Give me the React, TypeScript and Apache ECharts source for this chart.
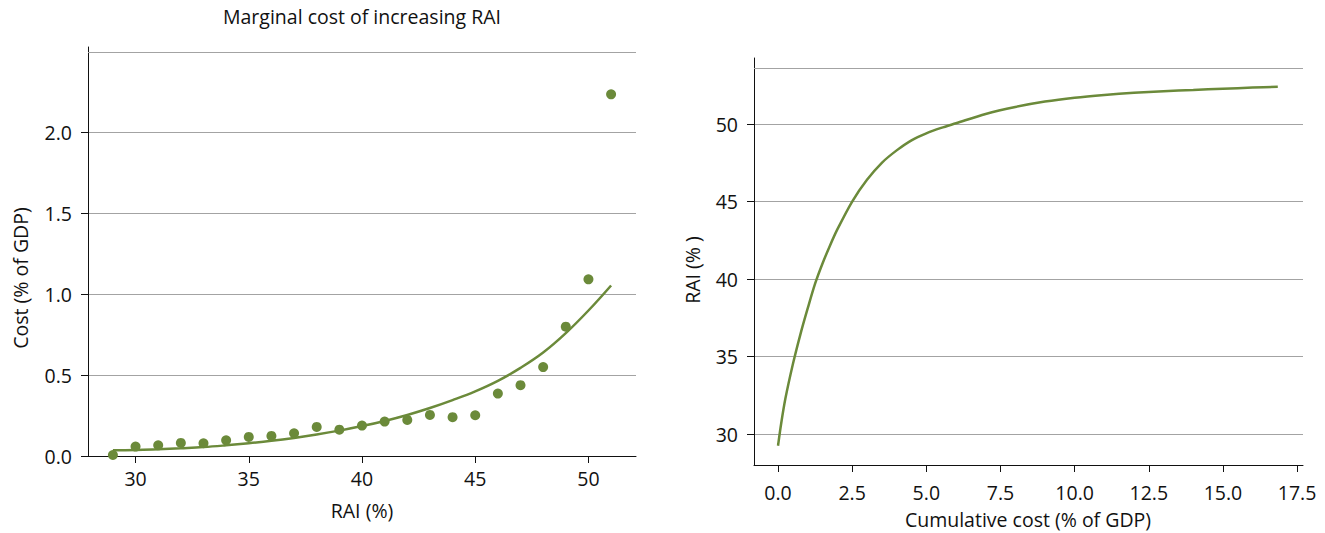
import React, { useEffect, useRef } from "react";
import * as echarts from "echarts";

// Left panel: marginal cost of increasing RAI
const raiValues = [29, 30, 31, 32, 33, 34, 35, 36, 37, 38, 39, 40, 41, 42, 43, 44, 45, 46, 47, 48, 49, 50, 51];
const marginalCost = [0.006, 0.058, 0.066, 0.081, 0.079, 0.097, 0.118, 0.124, 0.14, 0.18, 0.163, 0.188, 0.213, 0.223, 0.254, 0.24, 0.252, 0.386, 0.438, 0.55, 0.8, 1.093, 2.237];
const fittedCost = [0.035, 0.037, 0.042, 0.048, 0.055, 0.066, 0.079, 0.094, 0.112, 0.133, 0.157, 0.185, 0.217, 0.254, 0.297, 0.346, 0.4, 0.465, 0.545, 0.64, 0.76, 0.9, 1.055];
const leftXTicks = [30, 35, 40, 45, 50];
const leftYTicks = [0, 0.5, 1.0, 1.5, 2.0];

// Right panel: cumulative cost vs RAI
const cumulativeCost = [0, 0.1, 0.25, 0.5, 0.75, 1.0, 1.25, 1.5, 1.75, 2.0, 2.5, 3.0, 3.5, 4.0, 4.5, 5.0, 5.5, 6.0, 7.0, 8.0, 9.0, 10.0, 11.0, 12.0, 13.0, 14.0, 15.0, 16.0, 16.85];
const cumulativeRai = [29.24, 30.6, 32.3, 34.5, 36.4, 38.1, 39.7, 41.0, 42.15, 43.2, 45.0, 46.4, 47.5, 48.3, 48.95, 49.4, 49.75, 50.05, 50.65, 51.1, 51.45, 51.7, 51.88, 52.02, 52.12, 52.2, 52.28, 52.35, 52.4];
const rightXTicks = [0, 2.5, 5, 7.5, 10, 12.5, 15, 17.5];
const rightYTicks = [30, 35, 40, 45, 50];

const GREEN = "#6b8a3a";
const TEXT = "#111111";
const GRID = "#a3a3a3";
const FONT = "Open Sans";
const FS = 19.5;

export default function App() {
  const ref = useRef<HTMLDivElement>(null);
  useEffect(() => {
    if (!ref.current) return;
    const chart = echarts.init(ref.current, null, { renderer: "svg" });
    const axisCommon = {
      axisLine: { show: true, onZero: false, lineStyle: { color: "#111", width: 1 } },
      axisTick: { show: true, length: 7, inside: false, lineStyle: { color: "#111", width: 1 } },
      axisLabel: { color: TEXT, fontSize: FS, fontFamily: FONT },
    };
    chart.setOption({
      animation: false,
      backgroundColor: "#ffffff",
      grid: [
        { left: 88, right: 689, top: 47, bottom: 77 },
        { left: 754, right: 22, top: 58, bottom: 68 },
      ],
      xAxis: [
        {
          type: "value",
          gridIndex: 0,
          min: 27.9,
          max: 52.1,
          ...axisCommon,
          axisTick: { ...axisCommon.axisTick, customValues: leftXTicks },
          axisLabel: { ...axisCommon.axisLabel, margin: 12, customValues: leftXTicks, formatter: (v: number) => String(v) },
          splitLine: { show: false },
        },
        {
          type: "value",
          gridIndex: 1,
          min: -0.81,
          max: 17.7,
          ...axisCommon,
          axisTick: { ...axisCommon.axisTick, customValues: rightXTicks },
          axisLabel: { ...axisCommon.axisLabel, margin: 17, customValues: rightXTicks, formatter: (v: number) => v.toFixed(1) },
          splitLine: { show: false },
        },
      ],
      yAxis: [
        {
          type: "value",
          gridIndex: 0,
          min: 0,
          max: 2.53,
          ...axisCommon,
          axisTick: { ...axisCommon.axisTick, customValues: leftYTicks },
          axisLabel: { ...axisCommon.axisLabel, margin: 16, customValues: leftYTicks, formatter: (v: number) => v.toFixed(1) },
          splitLine: { show: true, showMinLine: false, lineStyle: { color: GRID, width: 1 } },
        },
        {
          type: "value",
          gridIndex: 1,
          min: 28.0,
          max: 54.26,
          ...axisCommon,
          axisTick: { ...axisCommon.axisTick, customValues: rightYTicks },
          axisLabel: { ...axisCommon.axisLabel, margin: 16, customValues: rightYTicks, formatter: (v: number) => String(v) },
          splitLine: { show: true, lineStyle: { color: GRID, width: 1 } },
        },
      ],
      series: [
        {
          type: "line",
          xAxisIndex: 0,
          yAxisIndex: 0,
          data: raiValues.map((x, i) => [x, fittedCost[i]]),
          smooth: 0.4,
          showSymbol: false,
          symbol: "none",
          lineStyle: { color: GREEN, width: 2.5 },
          markLine: {
            silent: true,
            symbol: "none",
            label: { show: false },
            lineStyle: { color: GRID, width: 1, type: "solid" },
            data: [{ yAxis: 2.5 }],
          },
          z: 2,
        },
        {
          type: "scatter",
          xAxisIndex: 0,
          yAxisIndex: 0,
          data: raiValues.map((x, i) => [x, marginalCost[i]]),
          symbol: "circle",
          symbolSize: 10,
          itemStyle: { color: GREEN, opacity: 1 },
          z: 3,
        },
        {
          type: "line",
          xAxisIndex: 1,
          yAxisIndex: 1,
          data: cumulativeCost.map((x, i) => [x, cumulativeRai[i]]),
          smooth: 0.3,
          showSymbol: false,
          symbol: "none",
          lineStyle: { color: GREEN, width: 2.5 },
          markLine: {
            silent: true,
            symbol: "none",
            label: { show: false },
            lineStyle: { color: GRID, width: 1, type: "solid" },
            data: [{ yAxis: 53.6 }],
          },
        },
      ],
      graphic: [
        {
          type: "text",
          x: 362,
          y: 16,
          style: { text: "Marginal cost of increasing RAI", fill: TEXT, fontSize: FS, fontFamily: FONT, align: "center", verticalAlign: "middle" },
        },
        {
          type: "text",
          x: 362,
          y: 510,
          style: { text: "RAI (%)", fill: TEXT, fontSize: FS, fontFamily: FONT, align: "center", verticalAlign: "middle" },
        },
        {
          type: "text",
          x: 20,
          y: 278,
          rotation: Math.PI / 2,
          style: { text: "Cost (% of GDP)", fill: TEXT, fontSize: FS, fontFamily: FONT, align: "center", verticalAlign: "middle" },
        },
        {
          type: "text",
          x: 1028,
          y: 519,
          style: { text: "Cumulative cost (% of GDP)", fill: TEXT, fontSize: FS, fontFamily: FONT, align: "center", verticalAlign: "middle" },
        },
        {
          type: "text",
          x: 692,
          y: 270,
          rotation: Math.PI / 2,
          style: { text: "RAI (% )", fill: TEXT, fontSize: FS, fontFamily: FONT, align: "center", verticalAlign: "middle" },
        },
      ],
    });
    return () => chart.dispose();
  }, []);
  return <div ref={ref} style={{ position: "fixed", left: 0, top: 0, width: 1325, height: 533 }} />;
}
